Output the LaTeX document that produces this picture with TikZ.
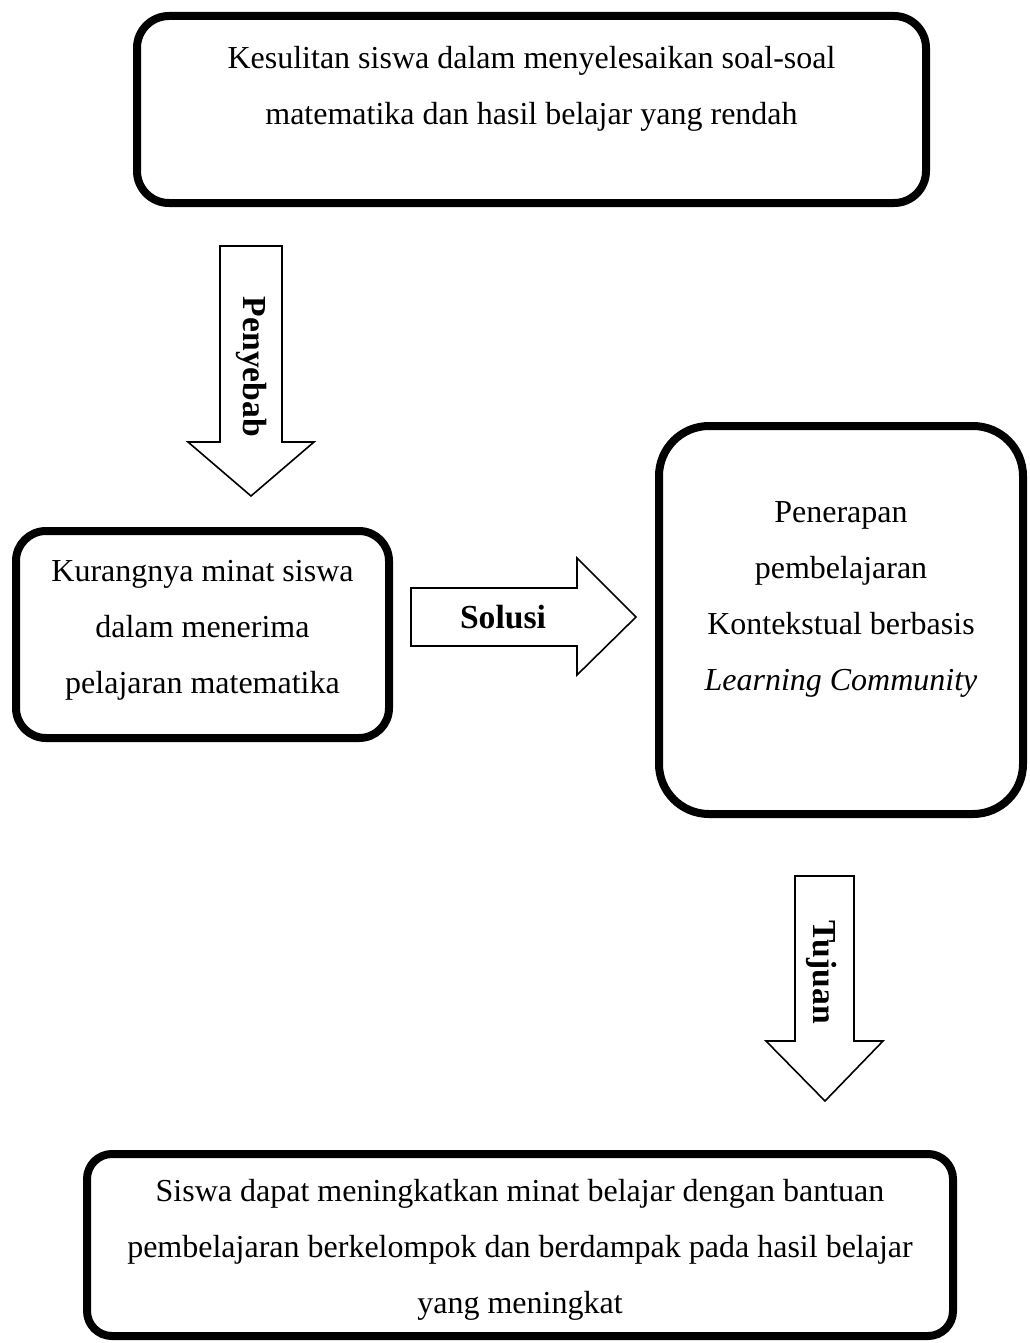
\documentclass[tikz,border=0pt]{standalone}
\usepackage{fontspec}
\setmainfont{Liberation Serif}
\usetikzlibrary{positioning}
\tikzset{
  kotak/.style={draw,line width=4pt,inner sep=0pt},
  teks/.style={align=center,inner sep=0pt,font=\fontsize{16}{28}\selectfont},
  panah/.style={draw,line width=0.8pt,fill=white,line join=miter},
  labelpanah/.style={inner sep=0pt,font=\fontsize{16.8}{18}\selectfont\bfseries}
}

\begin{document}
\begin{tikzpicture}[x=0.5pt,y=-0.5pt]
\useasboundingbox (0,0) rectangle (1029,1343);
% kotak
\node[kotak,rounded corners=16pt,minimum width=394.5pt,minimum height=93.5pt] (masalah) at (531.5,109.5) {};
\node[kotak,rounded corners=15pt,minimum width=186.5pt,minimum height=103.5pt] (sebab) at (202.5,634.5) {};
\node[kotak,rounded corners=25pt,minimum width=182pt,minimum height=194pt] (solusi) at (841,620) {};
\node[kotak,rounded corners=12.5pt,minimum width=433pt,minimum height=91pt] (tujuan) at (520,1245) {};
% isi kotak
\node[teks] (masalahtxt) at (531.5,89) {Kesulitan siswa dalam menyelesaikan soal-soal\\matematika dan hasil belajar yang rendah};
\node[teks] (sebabtxt) at (202.5,630) {Kurangnya minat siswa\\dalam menerima\\pelajaran matematika};
\node[teks] (solusitxt) at (841,599) {Penerapan\\pembelajaran\\Kontekstual berbasis\\\textit{Learning Community}};
\node[teks] (tujuantxt) at (520,1250) {Siswa dapat meningkatkan minat belajar dengan bantuan\\pembelajaran berkelompok dan berdampak pada hasil belajar\\yang meningkat};
% panah
\draw[panah] (220,246) -- (282,246) -- (282,442) -- (314,442) -- (251,496)
  -- (188,442) -- (220,442) -- cycle;
\node[labelpanah,rotate=-90] (penyebab) at (252,367) {Penyebab};
\draw[panah] (411,588) -- (577,588) -- (577,558) -- (636,617) -- (577,675)
  -- (577,646) -- (411,646) -- cycle;
\node[labelpanah] (lblsolusi) at (503,617) {Solusi};
\draw[panah] (795,876) -- (854,876) -- (854,1041) -- (883,1041) -- (825,1101)
  -- (766,1041) -- (795,1041) -- cycle;
\node[labelpanah,rotate=-90] (lbltujuan) at (822,972) {Tujuan};
\end{tikzpicture}
\end{document}
